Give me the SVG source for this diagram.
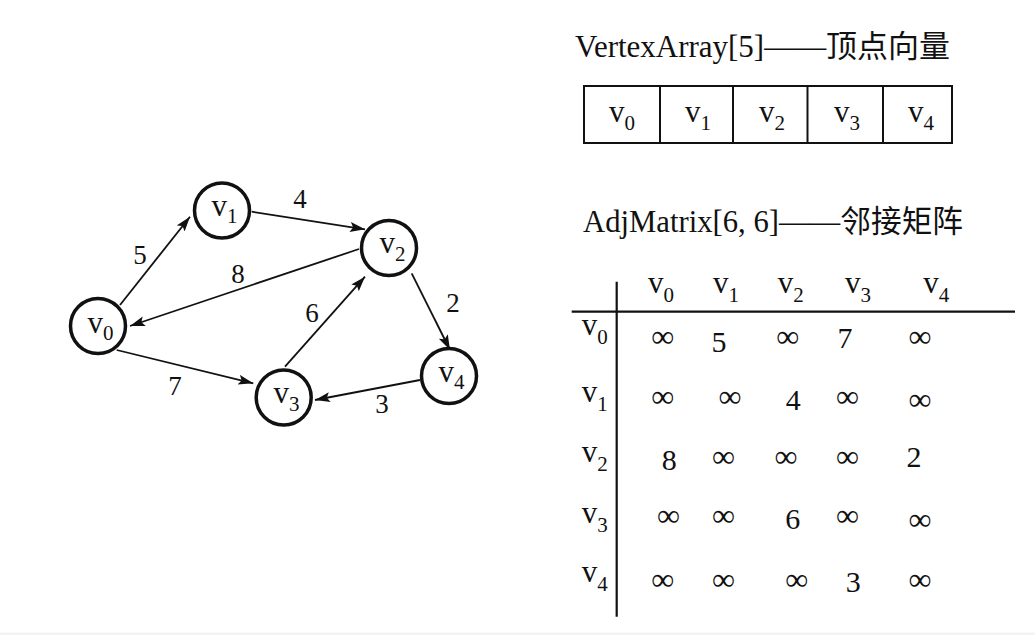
<svg xmlns="http://www.w3.org/2000/svg" width="1035" height="635" viewBox="0 0 1035 635">
<style>
text{font-family:"Liberation Serif","Times New Roman","Noto Sans CJK SC",serif;fill:#111}
.node circle{fill:#fff;stroke:#111;stroke-width:3.5}
.nv{font-size:31px}
.sub{font-size:21px}
.el{font-size:27px;text-anchor:middle}
.edge{stroke:#111;stroke-width:1.8;fill:none;marker-end:url(#arr)}
.title{font-size:31px}
.cell{fill:none;stroke:#111;stroke-width:2}
.inf{font-size:32px;text-anchor:middle}
.num{font-size:30px;text-anchor:middle}
.rule{stroke:#111;stroke-width:2.2}
</style>
<defs>
<marker id="arr" markerUnits="userSpaceOnUse" markerWidth="16" markerHeight="11" refX="15" refY="5" orient="auto">
<path d="M0,0 L15,5 L0,10 L3,5 Z" fill="#111"/>
</marker>
</defs>
<rect width="1035" height="635" fill="#fff"/>
<rect x="0" y="632.5" width="1035" height="2.5" fill="#f3f3f3"/>

<g id="connectors">
<line class="edge" x1="120" y1="305" x2="190" y2="216.7"/>
<line class="edge" x1="251.7" y1="211.7" x2="365" y2="229.3"/>
<line class="edge" x1="359" y1="249" x2="130" y2="326"/>
<line class="edge" x1="285" y1="366.7" x2="365" y2="276.7"/>
<line class="edge" x1="411.7" y1="273.3" x2="450" y2="350"/>
<line class="edge" x1="116.7" y1="350" x2="253.3" y2="383.3"/>
<line class="edge" x1="420" y1="380" x2="315" y2="400"/>
<text class="el" x="140" y="264">5</text>
<text class="el" x="300" y="208">4</text>
<text class="el" x="238" y="283">8</text>
<text class="el" x="312" y="321.7">6</text>
<text class="el" x="453" y="311.7">2</text>
<text class="el" x="175" y="395">7</text>
<text class="el" x="382" y="413.3">3</text>
</g>

<g id="v0" class="node"><circle cx="98" cy="326" r="27.5"/><text class="nv" x="87.5" y="333">v<tspan class="sub" dy="7">0</tspan></text></g>
<g id="v1" class="node"><circle cx="222" cy="210.5" r="27.5"/><text class="nv" x="211.5" y="216">v<tspan class="sub" dy="7">1</tspan></text></g>
<g id="v2" class="node"><circle cx="389" cy="248" r="27.5"/><text class="nv" x="379.5" y="253">v<tspan class="sub" dy="8">2</tspan></text></g>
<g id="v3" class="node"><circle cx="283.7" cy="397.5" r="27.5"/><text class="nv" x="273.5" y="403">v<tspan class="sub" dy="8">3</tspan></text></g>
<g id="v4" class="node"><circle cx="449" cy="376" r="27.5"/><text class="nv" x="438.5" y="382">v<tspan class="sub" dy="7">4</tspan></text></g>

<g id="vertex-array">
<text class="title" x="575" y="57" textLength="375" lengthAdjust="spacingAndGlyphs">VertexArray[5]——顶点向量</text>
<rect class="cell" x="584" y="86" width="368" height="57"/>
<line class="cell" x1="660" y1="86" x2="660" y2="143"/>
<line class="cell" x1="733" y1="86" x2="733" y2="143"/>
<line class="cell" x1="807.5" y1="86" x2="807.5" y2="143"/>
<line class="cell" x1="883" y1="86" x2="883" y2="143"/>
<text class="nv" x="609" y="122">v<tspan class="sub" dy="8">0</tspan></text>
<text class="nv" x="685" y="122">v<tspan class="sub" dy="8">1</tspan></text>
<text class="nv" x="759" y="122">v<tspan class="sub" dy="8">2</tspan></text>
<text class="nv" x="834" y="122">v<tspan class="sub" dy="8">3</tspan></text>
<text class="nv" x="908" y="122">v<tspan class="sub" dy="8">4</tspan></text>
</g>

<g id="adj-matrix">
<text class="title" x="583" y="232" textLength="380" lengthAdjust="spacingAndGlyphs">AdjMatrix[6, 6]——邻接矩阵</text>
<line class="rule" x1="571.7" y1="311.7" x2="1015" y2="311.7"/>
<line class="rule" x1="616.7" y1="281.7" x2="616.7" y2="616.7"/>
<text class="nv" x="648" y="293">v<tspan class="sub" dy="8.5">0</tspan></text>
<text class="nv" x="713" y="293">v<tspan class="sub" dy="8.5">1</tspan></text>
<text class="nv" x="777.7" y="293">v<tspan class="sub" dy="8.5">2</tspan></text>
<text class="nv" x="845" y="293">v<tspan class="sub" dy="8.5">3</tspan></text>
<text class="nv" x="923.3" y="293">v<tspan class="sub" dy="8.5">4</tspan></text>
<text class="nv" x="581.7" y="335">v<tspan class="sub" dy="9">0</tspan></text>
<text class="nv" x="581.7" y="401.7">v<tspan class="sub" dy="9">1</tspan></text>
<text class="nv" x="581.7" y="461.7">v<tspan class="sub" dy="9">2</tspan></text>
<text class="nv" x="581.7" y="523">v<tspan class="sub" dy="9">3</tspan></text>
<text class="nv" x="581.7" y="581.7">v<tspan class="sub" dy="9">4</tspan></text>

<text class="inf" x="662.7" y="347">∞</text>
<text class="num" x="719" y="351.7">5</text>
<text class="inf" x="787.7" y="347">∞</text>
<text class="num" x="845" y="348.3">7</text>
<text class="inf" x="920" y="347">∞</text>

<text class="inf" x="662.7" y="407">∞</text>
<text class="inf" x="730" y="407">∞</text>
<text class="num" x="793.3" y="410">4</text>
<text class="inf" x="847.3" y="407">∞</text>
<text class="inf" x="920" y="410">∞</text>

<text class="num" x="669.3" y="470">8</text>
<text class="inf" x="723.3" y="467">∞</text>
<text class="inf" x="786" y="467">∞</text>
<text class="inf" x="847.3" y="467">∞</text>
<text class="num" x="914" y="466.7">2</text>

<text class="inf" x="668.3" y="526">∞</text>
<text class="inf" x="723.3" y="526">∞</text>
<text class="num" x="792.7" y="529.3">6</text>
<text class="inf" x="847.3" y="526">∞</text>
<text class="inf" x="920" y="529.5">∞</text>

<text class="inf" x="662.7" y="589.5">∞</text>
<text class="inf" x="723.3" y="589.5">∞</text>
<text class="inf" x="796.7" y="589.5">∞</text>
<text class="num" x="853.3" y="591.7">3</text>
<text class="inf" x="920" y="589.5">∞</text>
</g>
</svg>
